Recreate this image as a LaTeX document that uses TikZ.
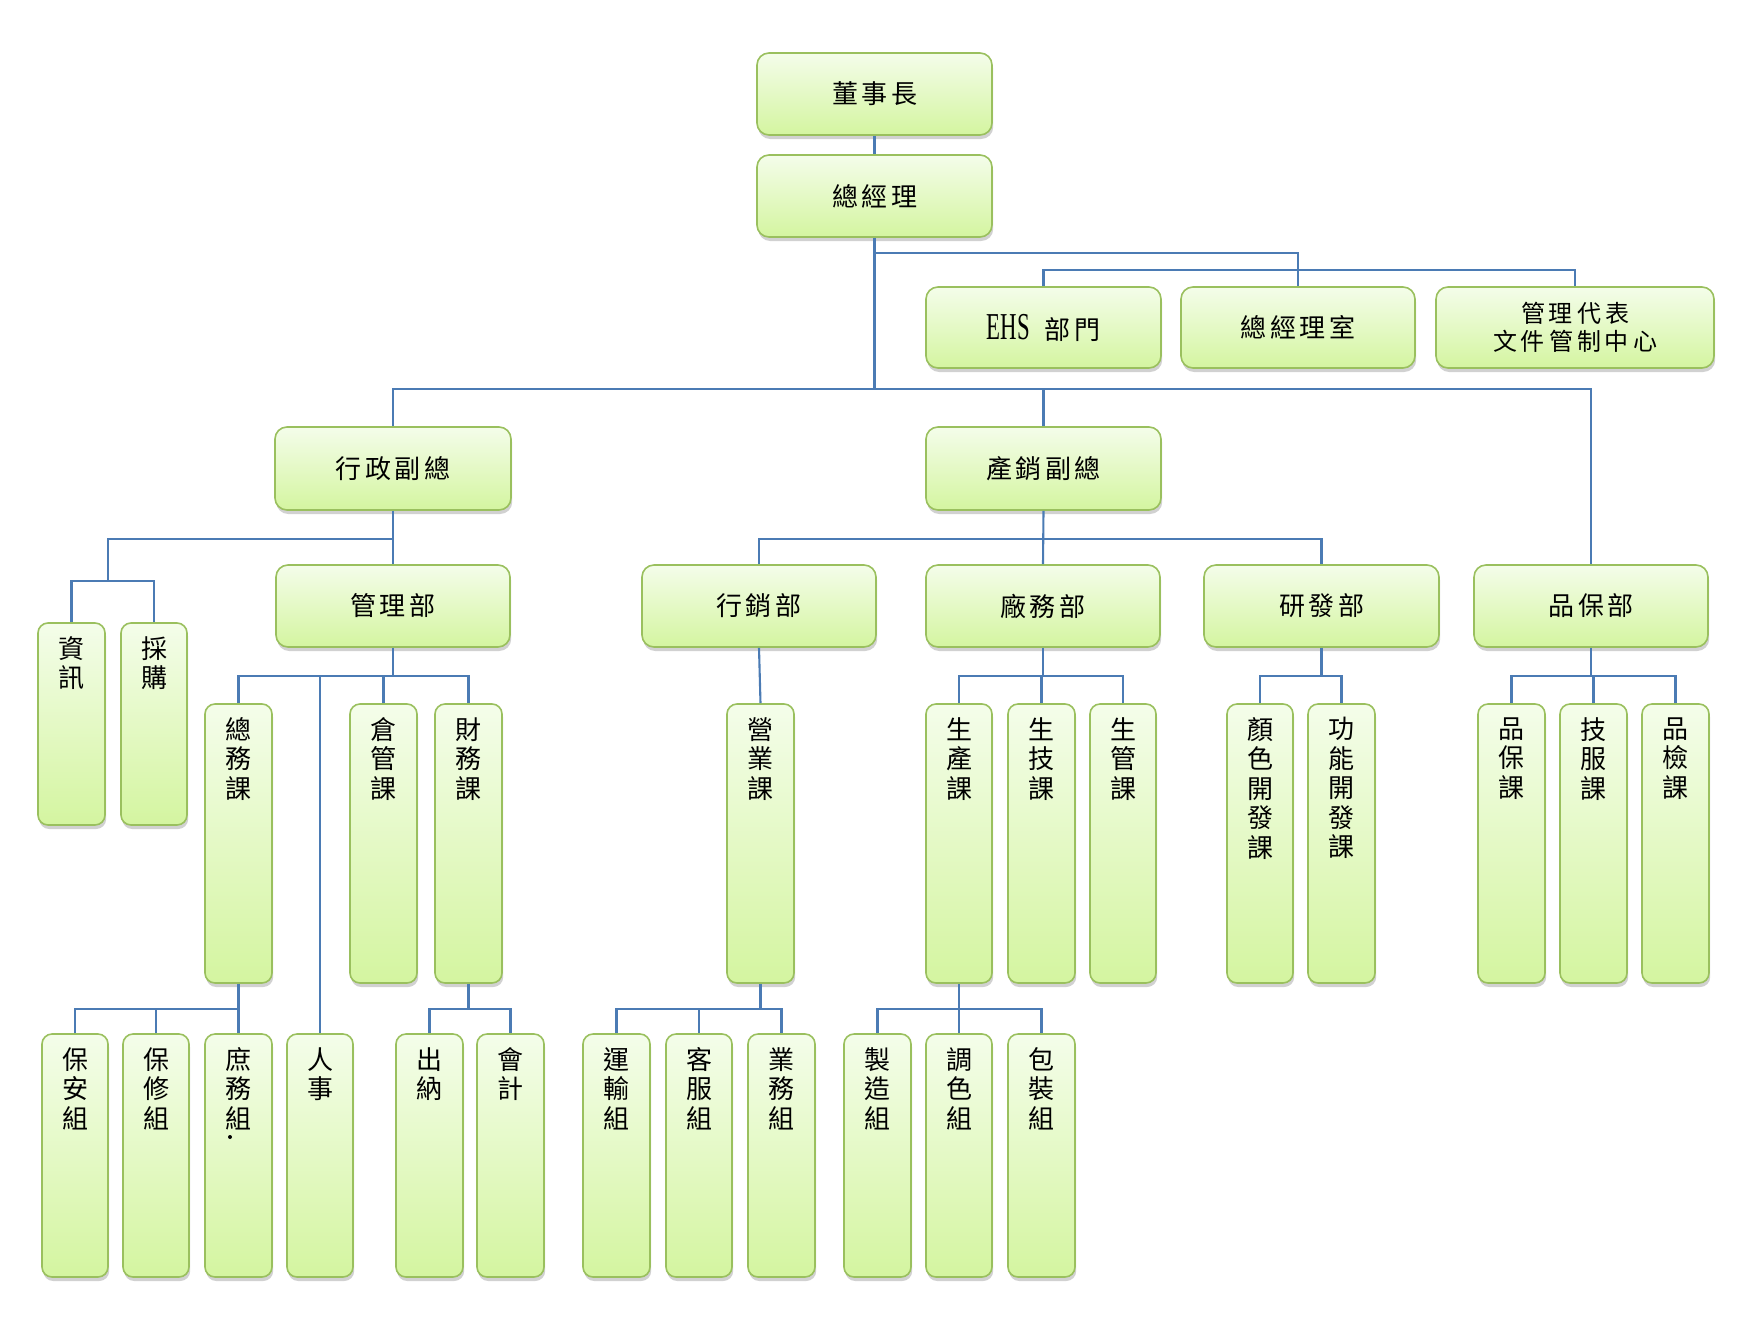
\documentclass[tikz,border=0pt]{standalone}
\usepackage{fontspec}
\usepackage{graphicx}
\newfontfamily\cjk{Noto Sans CJK TC}
\newfontfamily\ehsfont{Liberation Serif}
\usetikzlibrary{shadows,calc}
\definecolor{bdr}{HTML}{9AC05E}
\definecolor{ftop}{HTML}{F4FDEA}
\definecolor{fbot}{HTML}{D4F5A0}
\definecolor{lnc}{HTML}{4B7BB4}
\newcommand\hs{\kern3.5pt}
\tikzset{
  box/.style={draw=bdr, line width=1.6pt, rounded corners=12pt,
    top color=ftop, bottom color=fbot, inner sep=0pt,
    drop shadow={shadow xshift=1.2pt, shadow yshift=-4pt, opacity=0.18, fill=black}},
  nbox/.style={box, rounded corners=10pt},
  btxt/.style={font=\cjk\fontsize{26}{30}\selectfont, text=black, align=center},
  vtxt/.style={font=\cjk\fontsize{26}{29.5}\selectfont, text=black, align=center, inner sep=0pt, anchor=north},
  conn/.style={draw=lnc, line width=2.1pt}
}
\newcommand\bx[6]{\node[box, btxt, minimum width={(#4-#2)*1pt}, minimum height={(#5-#3)*1pt}] (#1) at ({(#2+#4)/2},{(#3+#5)/2}) {#6};}
\newcommand\vb[6]{\node[nbox, minimum width={(#4-#2)*1pt}, minimum height={(#5-#3)*1pt}] (#1) at ({(#2+#4)/2},{(#3+#5)/2}) {};
  \node[vtxt] (#1t) at ([yshift=-14pt]#1.north) {#6};}
\begin{document}
\begin{tikzpicture}[x=1pt,y=-1pt]
\useasboundingbox (0,0) rectangle (1741,1334);
\fill[white] (0,0) rectangle (1741,1334);
% top levels
\bx{ceo}{757}{53}{992}{135}{董\hs{}事\hs{}長}
\bx{gm}{757}{155}{992}{237}{總\hs{}經\hs{}理}
\bx{ehs}{926}{287}{1161}{368}{\scalebox{0.6}[1]{\ehsfont\fontsize{38}{38}\selectfont EHS}\kern15pt{}部\hs{}門}
\bx{gmo}{1181}{287}{1415}{368}{總\hs{}經\hs{}理\hs{}室}
\node[box, btxt, font=\cjk\fontsize{24}{28}\selectfont, minimum width=278pt, minimum height=81pt] (mr) at (1575,327.5) {管\kern4pt{}理\kern4pt{}代\kern4pt{}表\\文\kern4pt{}件\kern4pt{}管\kern4pt{}制\kern4pt{}中\kern4pt{}心};
\bx{vpa}{275}{427}{511}{510}{行\hs{}政\hs{}副\hs{}總}
\bx{vpb}{926}{427}{1161}{510}{產\hs{}銷\hs{}副\hs{}總}
\bx{mgt}{276}{565}{510}{647}{管\hs{}理\hs{}部}
\bx{mkt}{642}{565}{876}{647}{行\hs{}銷\hs{}部}
\bx{fac}{926}{565}{1160}{647}{廠\hs{}務\hs{}部}
\bx{rd}{1204}{565}{1439}{647}{研\hs{}發\hs{}部}
\bx{qa}{1474}{565}{1708}{647}{品\hs{}保\hs{}部}
% narrow boxes
\vb{it}{38}{623}{105}{825}{資\\訊}
\vb{pur}{121}{623}{187}{825}{採\\購}
\vb{ga}{205}{704}{272}{983}{總\\務\\課}
\vb{wh}{350}{704}{417}{983}{倉\\管\\課}
\vb{fin}{435}{704}{502}{983}{財\\務\\課}
\vb{sales}{727}{704}{794}{983}{營\\業\\課}
\vb{prod}{926}{704}{992}{983}{生\\產\\課}
\vb{tech}{1008}{704}{1075}{983}{生\\技\\課}
\vb{pc}{1090}{704}{1156}{983}{生\\管\\課}
\vb{color}{1227}{704}{1293}{983}{顏\\色\\開\\發\\課}
\vb{func}{1308}{704}{1375}{983}{功\\能\\開\\發\\課}
\vb{qac}{1478}{704}{1545}{983}{品\\保\\課}
\vb{ts}{1560}{704}{1627}{983}{技\\服\\課}
\vb{qc}{1642}{704}{1709}{983}{品\\檢\\課}
\vb{sec}{42}{1034}{108}{1277}{保\\安\\組}
\vb{mnt}{123}{1034}{189}{1277}{保\\修\\組}
\vb{gen}{205}{1034}{272}{1277}{庶\\務\\組}
\fill[black] (230,1137) circle (2pt);
\vb{hr}{287}{1034}{353}{1277}{人\\事}
\vb{cash}{396}{1034}{463}{1277}{出\\納}
\vb{acc}{477}{1034}{544}{1277}{會\\計}
\vb{ship}{583}{1034}{650}{1277}{運\\輸\\組}
\vb{cs}{666}{1034}{732}{1277}{客\\服\\組}
\vb{biz}{748}{1034}{815}{1277}{業\\務\\組}
\vb{mfg}{844}{1034}{911}{1277}{製\\造\\組}
\vb{mix}{926}{1034}{992}{1277}{調\\色\\組}
\vb{pack}{1008}{1034}{1075}{1277}{包\\裝\\組}
% bus levels
\coordinate (b1) at (0,253);
\coordinate (b2) at (0,270);
\coordinate (b3) at (0,389);
\coordinate (b4) at (0,539);
\coordinate (itbus) at (108,581);
\coordinate (b6) at (0,676);
\coordinate (b7) at (0,1009);
% connectors
\draw[conn] (ceo.south) -- (gm.north);
\draw[conn] (gm.south) -- (gm.south |- b3);
\draw[conn] (gm.south |- b1) -| (gmo.north);
\draw[conn] (ehs.north) |- (mr.north |- b2) -- (mr.north);
\draw[conn] (vpa.north) |- (qa.north |- b3) -- (qa.north);
\draw[conn] (vpb.north) -- (vpb.north |- b3);
\draw[conn] (vpa.south) -- (mgt.north);
\draw[conn] (vpa.south |- b4) -| (itbus);
\draw[conn] (it.north) |- (itbus) -| (pur.north);
\draw[conn] (vpb.south) -- (fac.north);
\draw[conn] (mkt.north) |- (rd.north |- b4) -- (rd.north);
\draw[conn] (mgt.south) -- (mgt.south |- b6);
\draw[conn] (ga.north) |- (fin.north |- b6) -- (fin.north);
\draw[conn] (wh.north) -- (wh.north |- b6);
\draw[conn] (hr.north) -- (hr.north |- b6);
\draw[conn] (mkt.south) -- (sales.north);
\draw[conn] (fac.south) -- (fac.south |- b6);
\draw[conn] (prod.north) |- (pc.north |- b6) -- (pc.north);
\draw[conn] (tech.north) -- (tech.north |- b6);
\draw[conn] (rd.south) -- (rd.south |- b6);
\draw[conn] (color.north) |- (func.north |- b6) -- (func.north);
\draw[conn] (qa.south) -- (qa.south |- b6);
\draw[conn] (qac.north) |- (qc.north |- b6) -- (qc.north);
\draw[conn] (ts.north) -- (ts.north |- b6);
\draw[conn] (ga.south) -- (ga.south |- b7);
\draw[conn] (sec.north) |- (gen.north |- b7) -- (gen.north);
\draw[conn] (mnt.north) -- (mnt.north |- b7);
\draw[conn] (fin.south) -- (fin.south |- b7);
\draw[conn] (cash.north) |- (acc.north |- b7) -- (acc.north);
\draw[conn] (sales.south) -- (sales.south |- b7);
\draw[conn] (ship.north) |- (biz.north |- b7) -- (biz.north);
\draw[conn] (cs.north) -- (cs.north |- b7);
\draw[conn] (prod.south) -- (prod.south |- b7);
\draw[conn] (mfg.north) |- (pack.north |- b7) -- (pack.north);
\draw[conn] (mix.north) -- (mix.north |- b7);
\end{tikzpicture}
\end{document}
